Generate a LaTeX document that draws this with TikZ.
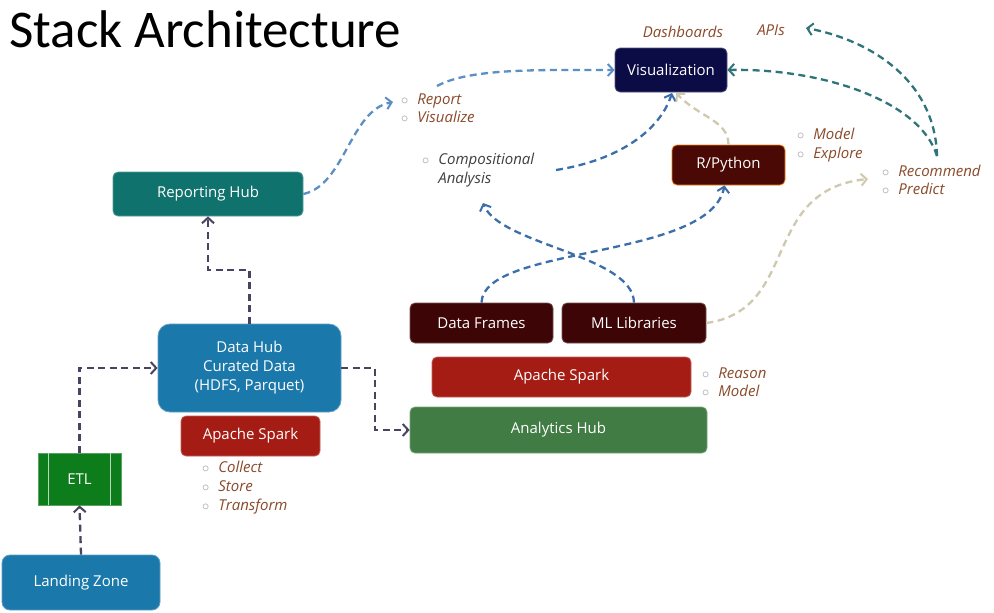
\documentclass[tikz,border=0pt]{standalone}
\usepackage{fontspec}
\setmainfont{Open Sans}
\newfontfamily\titlefont{Carlito}
\usetikzlibrary{arrows.meta,calc}
\definecolor{navy}{HTML}{0B0B45}
\definecolor{teal1}{HTML}{0F726C}
\definecolor{hubblue}{HTML}{1B78AA}
\definecolor{sparkred}{HTML}{A51C15}
\definecolor{etlgreen}{HTML}{0D7D1C}
\definecolor{maroon1}{HTML}{3E0507}
\definecolor{maroon2}{HTML}{4A0904}
\definecolor{ahgreen}{HTML}{417C44}
\definecolor{cdark}{HTML}{4A4260}
\definecolor{cblue1}{HTML}{5C8FC4}
\definecolor{cblue2}{HTML}{3B6EAA}
\definecolor{cbeige}{HTML}{CFC9AE}
\definecolor{cteal}{HTML}{2E7478}
\definecolor{lbrown}{HTML}{8A4A2A}
\newcommand{\mybul}{{\color{gray!80}$\circ$}\hspace{9pt}}
\tikzset{
  box/.style={rounded corners=5pt, text=white, font=\fontsize{15}{19}\selectfont,
    inner sep=0pt, align=center, draw=#1!70!white, line width=0.8pt, fill=#1},
  conn/.style={line width=2.3pt, dash pattern=on 7pt off 4.5pt,
    -{Straight Barb[length=5.5pt,width=12pt,line width=2pt]}},
  lbl/.style={text=lbrown, font=\fontsize{15}{18.5}\selectfont\itshape, align=left, inner sep=0pt},
}
\begin{document}
\begin{tikzpicture}[x=1pt,y=-1pt]
\useasboundingbox (0,0) rectangle (994,613);
\fill[white] (0,0) rectangle (994,613);

% title
\node[anchor=base west, inner sep=0pt, font=\titlefont\fontsize{53}{60}\selectfont] (title) at (9,47) {Stack Architecture};

% boxes
\node[box=navy, minimum width=112pt, minimum height=44pt] (vis) at (671,70) {Visualization};
\node[box=teal1, minimum width=190pt, minimum height=44pt] (rep) at (208,194) {Reporting Hub};
\node[box=hubblue, rounded corners=12pt, minimum width=183pt, minimum height=88pt] (dh) at (249.5,368) {Data Hub\\Curated Data\\(HDFS, Parquet)};
\node[box=sparkred, minimum width=139pt, minimum height=40pt] (sp1) at (250.5,436) {Apache Spark};
\node[box=etlgreen, rounded corners=0pt, minimum width=83pt, minimum height=52pt] (etl) at (79.5,479) {ETL};
\draw[white!70!etlgreen, line width=0.8pt] ([xshift=11pt]etl.north west) -- ([xshift=11pt]etl.south west);
\draw[white!70!etlgreen, line width=0.8pt] ([xshift=-11pt]etl.north east) -- ([xshift=-11pt]etl.south east);
\node[box=hubblue, rounded corners=8pt, minimum width=158pt, minimum height=55pt] (lz) at (81,582.5) {Landing Zone};
\node[box=maroon1, minimum width=143pt, minimum height=40pt] (df) at (481.5,323) {Data Frames};
\node[box=maroon1, minimum width=144pt, minimum height=40pt] (ml) at (634,323) {ML Libraries};
\node[box=sparkred, minimum width=259pt, minimum height=40pt] (sp2) at (561.5,377) {Apache Spark};
\node[box=ahgreen, minimum width=297pt, minimum height=46pt] (ah) at (558.5,430) {Analytics Hub};
\node[box=maroon2, draw=orange!70!brown, minimum width=113pt, minimum height=40pt] (rp) at (728.5,165) {R/Python};

% labels
\node[lbl] (dash) at (683,32) {Dashboards};
\node[lbl] (apis) at (771,30) {APIs};
\node[lbl, anchor=west] (reptxt) at (401,108) {\mybul Report\\\mybul Visualize};
\node[lbl, anchor=west, text=black!75] (comp) at (422,170) {\mybul Compositional\\\phantom{\mybul}Analysis};
\node[lbl, anchor=west] (modtxt) at (797,145) {\mybul Model\\\mybul Explore};
\node[lbl, anchor=west] (rectxt) at (882,180) {\mybul Recommend\\\mybul Predict};
\node[lbl, anchor=west] (reatxt) at (702,382) {\mybul Reason\\\mybul Model};
\node[lbl, anchor=west, font=\fontsize{15}{19}\selectfont\itshape] (coltxt) at (202,488) {\mybul Collect\\\mybul Store\\\mybul Transform};

% coordinates
\coordinate (k1) at (249.5,270);
\coordinate (k2) at (375,368);
\coordinate (repin) at (393,102);
\coordinate (repout) at (437,86);
\coordinate (compout) at (556,170);
\coordinate (compin) at (483,203);
\coordinate (visb) at (672,93);
\coordinate (visb2) at (676,93);
\coordinate (recin) at (868,179);
\coordinate (recout) at (937,156);
\coordinate (apiin) at (806,28);

% connectors
\draw[conn, cdark] (lz.north) -- (etl.south);
\draw[conn, cdark] (etl.north) |- (dh.west);
\draw[conn, cdark] (dh.north) -- (k1) -| (rep.south);
\draw[conn, cdark] (dh.east) -- (k2) |- (ah.west);

\draw[conn, cblue1] (rep.east) .. controls (345,185) and (350,110) .. (repin);
\draw[conn, cblue1] (repout) .. controls (470,68) and (540,70) .. (vis.west);
\draw[conn, cblue2] (compout) .. controls (620,160) and (660,130) .. (visb);
\draw[conn, cblue2] (df.north) .. controls (483,245) and (710,260) .. ([xshift=-4pt]rp.south);
\draw[conn, cblue2] (ml.north) .. controls (633,255) and (500,245) .. (compin);
\draw[conn, cbeige] (rp.north) .. controls (728,120) and (700,118) .. (visb2);
\draw[conn, cbeige] (ml.east) .. controls (800,310) and (760,190) .. (recin);
\draw[conn, cteal] (recout) .. controls (935,80) and (870,40) .. (apiin);
\draw[conn, cteal] (recout) .. controls (920,100) and (820,68) .. (vis.east);
\end{tikzpicture}
\end{document}
